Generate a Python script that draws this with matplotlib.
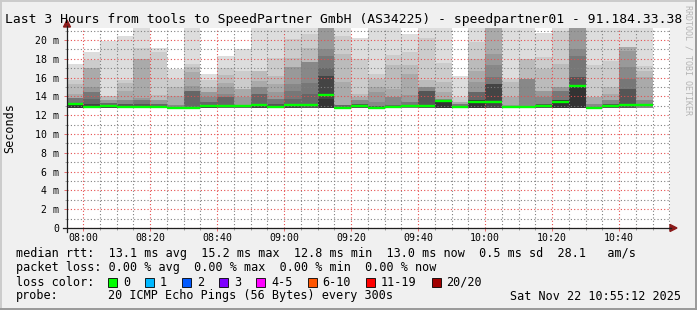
import numpy as np
import matplotlib
matplotlib.use('Agg')
import matplotlib.pyplot as plt
from matplotlib.lines import Line2D
from matplotlib.patches import Polygon, Rectangle

### Canvas size in pixels
W, H = 697, 310
MONO = 'DejaVu Sans Mono'

### Data
title = 'Last 3 Hours from tools to SpeedPartner GmbH (AS34225) - speedpartner01 - 91.184.33.38'

bar_start = ['07:55', '08:00', '08:05', '08:10', '08:15', '08:20', '08:25',
             '08:30', '08:35', '08:40', '08:45', '08:50', '08:55', '09:00',
             '09:05', '09:10', '09:15', '09:20', '09:25', '09:30', '09:35',
             '09:40', '09:45', '09:50', '09:55', '10:00', '10:05', '10:10',
             '10:15', '10:20', '10:25', '10:30', '10:35', '10:40', '10:45']

median_ms = [13.22, 12.92, 12.93, 12.87, 12.85, 12.85, 12.80, 12.80, 12.95,
             12.95, 12.95, 13.10, 12.90, 13.10, 13.10, 14.20, 12.80, 12.95,
             12.80, 12.90, 13.00, 13.00, 13.50, 12.90, 13.40, 13.40, 12.90,
             12.90, 13.00, 13.40, 15.15, 12.80, 13.00, 13.05, 13.05]

min_ms = [12.75, 12.75, 12.75, 12.72, 12.72, 12.72, 12.68, 12.70, 12.75,
          12.75, 12.75, 12.80, 12.72, 12.75, 12.75, 12.75, 12.70, 12.75,
          12.70, 12.72, 12.75, 12.75, 12.75, 12.75, 12.75, 12.75, 12.75,
          12.75, 12.75, 12.75, 12.75, 12.70, 12.75, 12.75, 12.75]

# smoke layers, outer (light) to inner (dark): upper edge of each band
layer_tops = [
    [17.4, 15.7, 15.3, 14.3, 13.8, 13.3, 13.15],
    [18.7, 17.85, 17.0, 15.0, 14.5, 13.75, 13.2],
    [19.85, 14.0, 13.6, 13.3, 13.05],
    [20.45, 15.7, 15.45, 14.6, 13.6, 13.2],
    [21.3, 19.1, 18.0, 13.8, 13.6, 13.2],
    [19.2, 18.7, 14.2, 13.6, 13.2],
    [16.9, 15.9, 14.95, 14.0, 13.1],
    [21.3, 17.45, 17.1, 16.6, 15.15, 14.6],
    [16.4, 15.75, 15.05, 14.5, 13.9, 13.45, 13.1],
    [18.25, 17.0, 16.3, 15.45, 15.0, 14.3, 13.9],
    [19.05, 16.75, 14.8, 13.9, 13.1],
    [21.3, 16.75, 15.6, 15.05, 14.3, 13.2],
    [21.3, 18.1, 16.2, 15.35, 14.45, 13.75, 13.2],
    [21.3, 20.1, 18.1, 17.1, 15.35, 14.6, 13.75, 13.2],
    [21.3, 20.65, 19.2, 17.7, 15.45, 14.3, 13.2],
    [21.3, 19.0, 18.3, 17.0, 16.2, 13.7],
    [21.3, 20.45, 18.5, 15.5, 13.1],
    [20.2, 18.0, 14.3, 13.9, 13.6, 13.2],
    [21.3, 16.4, 15.85, 15.0, 14.45, 13.4, 13.0],
    [21.3, 18.4, 17.35, 14.8, 13.9, 13.05],
    [20.6, 18.7, 17.3, 16.4, 14.1, 13.4],
    [21.3, 20.2, 15.7, 15.0, 14.6],
    [21.3, 17.6, 15.5, 14.45, 13.75, 13.65],
    [16.2, 13.9, 13.4, 13.2],
    [21.3, 19.8, 18.0, 16.75, 15.5, 14.45, 13.6],
    [21.3, 18.5, 17.3, 16.05, 15.35],
    [21.3, 15.85, 15.5, 13.9, 13.1],
    [21.3, 18.0, 15.85],
    [20.75, 18.2, 16.9, 14.6, 13.9, 13.2],
    [21.3, 21.0, 17.45, 15.0, 14.6, 13.6],
    [21.3, 19.05, 18.35, 16.05, 15.15],
    [21.3, 17.3, 13.9, 13.2],
    [21.3, 17.8, 15.0, 14.3, 13.6, 13.2],
    [21.3, 19.3, 18.85, 17.1, 15.85, 14.8],
    [21.3, 17.2, 16.75, 16.05, 13.6],
]
layer_grays = [
    ['dd', 'cc', 'bb', 'aa', '77', '55', '33'],
    ['dd', 'cc', 'aa', '99', '77', '66', '44'],
    ['dd', 'bb', '99', '66', '44'],
    ['dd', 'cc', 'bb', 'aa', '88', '55'],
    ['dd', 'cc', 'aa', '99', '77', '55'],
    ['dd', 'cc', 'bb', '99', '66'],
    ['dd', 'cc', 'bb', 'aa', '88'],
    ['dd', 'cc', 'bb', 'aa', '99', '66'],
    ['dd', 'cc', 'bb', '99', '88', '66', '44'],
    ['dd', 'cc', 'bb', 'aa', '99', '88', '66'],
    ['dd', 'cc', 'aa', '99', '66'],
    ['dd', 'bb', 'aa', '88', '66', '44'],
    ['dd', 'cc', 'bb', 'aa', '99', '77', '55'],
    ['dd', 'cc', 'bb', '99', '88', '77', '66', '44'],
    ['dd', 'cc', 'bb', '88', '77', '66', '55'],
    ['99', '88', '77', '66', '44', '33'],
    ['dd', 'cc', 'bb', 'aa', '66'],
    ['dd', 'cc', 'bb', 'aa', '88', '55'],
    ['dd', 'cc', 'bb', 'aa', '99', '88', '55'],
    ['dd', 'cc', 'bb', 'aa', '88', '66'],
    ['dd', 'cc', 'bb', 'aa', '99', '77'],
    ['dd', 'cc', 'bb', '88', '55'],
    ['dd', 'cc', 'bb', 'aa', '88', '33'],
    ['dd', 'cc', 'aa', '77'],
    ['dd', 'cc', 'bb', 'aa', '99', '66', '33'],
    ['aa', '99', '88', '77', '44'],
    ['dd', 'cc', 'bb', 'aa', '99'],
    ['dd', 'bb', '88'],
    ['dd', 'cc', 'bb', '99', '88', '55'],
    ['dd', 'cc', 'bb', '99', '77', '33'],
    ['99', '88', '77', '55', '33'],
    ['dd', 'cc', 'aa', '88'],
    ['dd', 'cc', 'bb', 'aa', '88', '55'],
    ['dd', 'aa', '99', '88', '77', '55'],
    ['dd', 'cc', 'bb', 'aa', '88'],
]

tick_times = ['08:00', '08:20', '08:40', '09:00', '09:20', '09:40',
              '10:00', '10:20', '10:40']
y_ticks = [0, 2, 4, 6, 8, 10, 12, 14, 16, 18, 20]
y_labels = ['0', '2 m', '4 m', '6 m', '8 m', '10 m', '12 m', '14 m',
            '16 m', '18 m', '20 m']

legend_rtt = 'median rtt:  13.1 ms avg  15.2 ms max  12.8 ms min  13.0 ms now  0.5 ms sd  28.1   am/s'
legend_loss = 'packet loss: 0.00 % avg  0.00 % max  0.00 % min  0.00 % now'
probe_text = '20 ICMP Echo Pings (56 Bytes) every 300s'
stamp_text = 'Sat Nov 22 10:55:12 2025'
loss_labels = ['0', '1', '2', '3', '4-5', '6-10', '11-19', '20/20']
loss_colors = ['#00ff00', '#00b8ff', '#0059ff', '#7e00ff', '#ff00ff',
               '#ff5500', '#ff0000', '#a10000']

### Helpers
def tmin(s):
    h, m = s.split(':')
    return int(h) * 60 + int(m) - 8 * 60

def fx(x):
    return x / W

def fy(y):
    return 1 - y / H

###########################################################################
fig = plt.figure(figsize=(W / 100, H / 100), dpi=100, facecolor='#f0f0f0')

# plot canvas: x 67..670 px, y 28..228 px
ax = fig.add_axes([fx(67), fy(228), 603 / W, 200 / H])
ax.set_facecolor('white')
ax.set_xlim(-4.8, 175.2)
ax.set_ylim(0, 21.28)
for s in ax.spines.values():
    s.set_visible(False)

### Smoke bars and median lines
for i, t in enumerate(bar_start):
    x0 = tmin(t)
    for top, g in zip(layer_tops[i], layer_grays[i]):
        ax.bar(x0, top - min_ms[i], bottom=min_ms[i], width=5, align='edge',
               color='#' + g * 3, linewidth=0, zorder=1)
    ax.hlines(median_ms[i], x0, x0 + 5, colors='#00ff00', linewidth=1.7,
              zorder=4)

### Grid (dotted, drawn over the smoke like rrdtool does)
ax.set_xticks([tmin(t) for t in tick_times])
ax.set_xticklabels(tick_times, fontsize=7.1, family=MONO)
ax.set_xticks(np.arange(0, 176, 5), minor=True)
ax.set_yticks(y_ticks)
ax.set_yticklabels(y_labels, fontsize=7.1, family=MONO)
ax.set_yticks(np.arange(1, 22, 2), minor=True)
ax.set_axisbelow(False)
ax.grid(which='major', color=(0.9, 0.3, 0.3, 0.42), linestyle=(0, (1, 2)),
        linewidth=0.8)
ax.grid(which='minor', color=(0.5, 0.5, 0.5, 0.38), linestyle=(0, (1, 2)),
        linewidth=0.8)
ax.tick_params(axis='both', which='major', length=2.2, width=0.72,
               color=(0.9, 0.3, 0.3, 0.8))
ax.tick_params(axis='both', which='minor', length=1.5, width=0.72,
               color=(0.55, 0.55, 0.55, 0.8))
ax.tick_params(axis='x', which='major', pad=1.6)
ax.tick_params(axis='y', which='major', pad=3.3)

### Axis lines with arrows
fig.add_artist(Line2D([fx(63), fx(671)], [fy(228), fy(228)], color='#202020',
                      lw=0.9, transform=fig.transFigure))
fig.add_artist(Line2D([fx(67), fx(67)], [fy(232), fy(26)], color='#202020',
                      lw=0.9, transform=fig.transFigure))
fig.add_artist(Polygon([[fx(670), fy(224.5)], [fx(677), fy(228)],
                        [fx(670), fy(231.5)]], closed=True, color='#8b1a1a',
                       transform=fig.transFigure))
fig.add_artist(Polygon([[fx(63.5), fy(27)], [fx(67), fy(20)],
                        [fx(70.5), fy(27)]], closed=True, color='#8b1a1a',
                       transform=fig.transFigure))

### Frame shading
fig.add_artist(Line2D([0, 1], [fy(0.5), fy(0.5)], color='#cbcbcb', lw=1.4,
                      transform=fig.transFigure))
fig.add_artist(Line2D([fx(0.5), fx(0.5)], [0, 1], color='#cbcbcb', lw=1.4,
                      transform=fig.transFigure))
fig.add_artist(Line2D([0, 1], [fy(309), fy(309)], color='#999999', lw=1.4,
                      transform=fig.transFigure))
fig.add_artist(Line2D([fx(696), fx(696)], [0, 1], color='#999999', lw=1.4,
                      transform=fig.transFigure))

### Texts
fig.text(fx(5), fy(19), title, fontsize=9.4, family=MONO, ha='left',
         va='center')
fig.text(fx(10), fy(128), 'Seconds', fontsize=8.5, family=MONO, rotation=90,
         ha='center', va='center')
fig.text(fx(688), fy(60), 'RRDTOOL / TOBI OETIKER', fontsize=6.0, family=MONO,
         rotation=270, ha='center', va='center', color='#b4b4b4')

fig.text(fx(16), fy(254), legend_rtt, fontsize=8.5, family=MONO, va='center')
fig.text(fx(16), fy(268), legend_loss, fontsize=8.5, family=MONO, va='center')
fig.text(fx(16), fy(282), 'loss color:', fontsize=8.5, family=MONO,
         va='center')
fig.text(fx(16), fy(296), 'probe:', fontsize=8.5, family=MONO, va='center')
fig.text(fx(108), fy(296), probe_text, fontsize=8.5, family=MONO, va='center')
fig.text(fx(681), fy(296), stamp_text, fontsize=8.5, family=MONO, va='center',
         ha='right')

# loss colour boxes
cx = 108
for lab, col in zip(loss_labels, loss_colors):
    fig.add_artist(Rectangle((fx(cx), fy(286.5)), 9 / W, 9 / H,
                             facecolor=col, edgecolor='black', lw=0.6,
                             transform=fig.transFigure))
    fig.text(fx(cx + 15), fy(282), lab, fontsize=8.5, family=MONO,
             va='center')
    cx = cx + 15 + 7.1 * len(lab) + 15

plt.savefig('out.png', dpi=100, facecolor=fig.get_facecolor())
